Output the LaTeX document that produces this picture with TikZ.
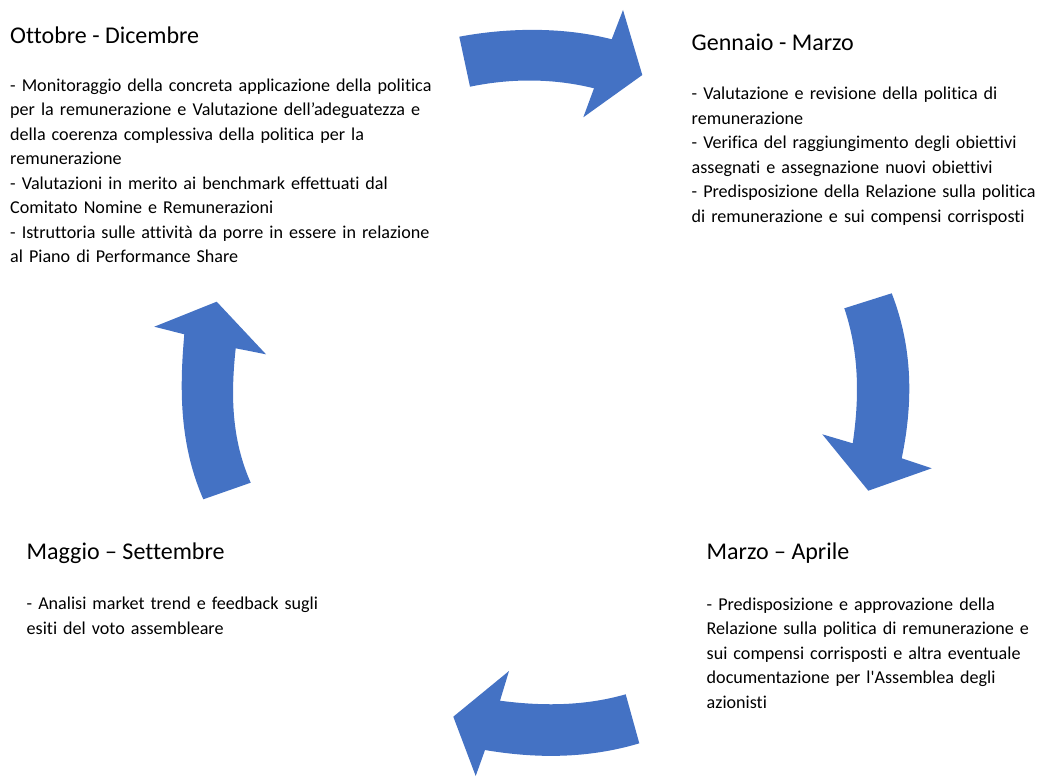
\documentclass[tikz,border=0pt]{standalone}
\usepackage{fontspec}
\setmainfont{Carlito}[Ligatures={TeXOff,CommonOff}]
\definecolor{arrowblue}{HTML}{4472C4}
\tikzset{
  blockarrow/.style={fill=arrowblue, draw=none},
  title/.style={anchor=base west, inner sep=0pt, font=\fontsize{24}{28}\selectfont, text=black},
  body/.style={anchor=base west, inner sep=0pt, text width=520pt, align=left, font=\fontsize{18.1}{24.5}\selectfont, text=black}
}
\begin{document}
\begin{tikzpicture}[x=1pt, y=-1pt]
\useasboundingbox (0,0) rectangle (1038,776);
% arrows
\path[blockarrow] (459.3,36.7) .. controls (510,27.2) and (565,27.2) .. (611.7,39.3) -- (623,10) -- (642.3,75) -- (583.3,117.3) -- (594,88.3) .. controls (553,78.2) and (511,78.2) .. (470,86.7) -- cycle;
\path[blockarrow] (844.3,308.3) .. controls (859.4,353.3) and (859.4,398.3) .. (852.7,443.3) -- (822.3,434.3) -- (868.3,490.7) -- (931.7,468.3) -- (901.7,458.3) .. controls (913.1,403.3) and (913.1,348.3) .. (891.7,293.3) -- cycle;
\path[blockarrow] (625.7,694.3) .. controls (584,706.2) and (542,706.2) .. (500,700.7) -- (509,671) -- (453.3,716.7) -- (475.7,776) -- (485,750) .. controls (536,758.7) and (588,758.7) .. (639.3,743.3) -- cycle;
\path[blockarrow] (203.3,499.3) .. controls (179.4,444.3) and (179.4,389.3) .. (184.3,334.3) -- (154.3,326.7) -- (216.7,301.7) -- (266,354.3) -- (235.7,348.3) .. controls (230.9,393.1) and (230.9,437.9) .. (250.7,482.7) -- cycle;
% texts
\node[title] (t1) at (10,43.5) {Ottobre - Dicembre};
\node[body] (b1) at (10,91) {- Monitoraggio della concreta applicazione della politica\\per la remunerazione e Valutazione dell’adeguatezza e\\della coerenza complessiva della politica per la\\remunerazione\\- Valutazioni in merito ai benchmark effettuati dal\\Comitato Nomine e Remunerazioni\\- Istruttoria sulle attività da porre in essere in relazione\\al Piano di Performance Share};
\node[title] (t2) at (691.5,50.7) {Gennaio - Marzo};
\node[body] (b2) at (691.5,99.5) {- Valutazione e revisione della politica di\\remunerazione\\- Verifica del raggiungimento degli obiettivi\\assegnati e assegnazione nuovi obiettivi\\- Predisposizione della Relazione sulla politica\\di remunerazione e sui compensi corrisposti};
\node[title] (t3) at (706.5,559.5) {Marzo – Aprile};
\node[body] (b3) at (706.5,610) {- Predisposizione e approvazione della\\Relazione sulla politica di remunerazione e\\sui compensi corrisposti e altra eventuale\\documentazione per l'Assemblea degli\\azionisti};
\node[title] (t4) at (26.5,559.5) {Maggio – Settembre};
\node[body] (b4) at (26.5,609.5) {- Analisi market trend e feedback sugli\\esiti del voto assembleare};
\end{tikzpicture}
\end{document}
